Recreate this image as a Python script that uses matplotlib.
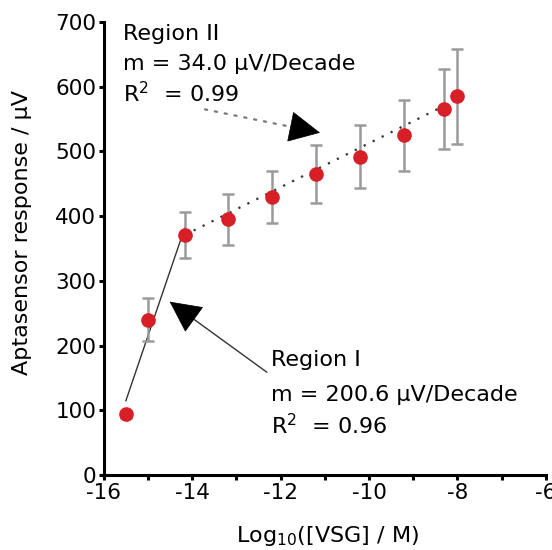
import matplotlib
matplotlib.use("Agg")
import matplotlib.pyplot as plt
import numpy as np

# data
log_conc = [-15.5, -15.0, -14.17, -13.2, -12.2, -11.2, -10.2, -9.2, -8.3, -8.0]
response = [94, 240, 371, 395, 430, 465, 492, 525, 566, 585]
err = [5, 33, 35, 39, 40, 45, 49, 55, 62, 73]

slope_I, r2_I = 200.6, 0.96
slope_II, r2_II = 34.0, 0.99
fit_I_x = [-15.5, -14.17]
fit_I_b = 115
fit_II_x = [-14.17, -8.0]
fit_II_b = 371

xticks = [-16, -14, -12, -10, -8, -6]
yticks = [0, 100, 200, 300, 400, 500, 600, 700]

plt.rcParams['font.family'] = ['DejaVu Sans']

fig = plt.figure(figsize=(5.52, 5.50), dpi=100)
ax = fig.add_axes([0.188, 0.136, 0.801, 0.824])

# fit lines
xI = np.array(fit_I_x)
ax.plot(xI, fit_I_b + slope_I * (xI - fit_I_x[0]), color='#333333', lw=1.0, zorder=2)
xII = np.array(fit_II_x)
ax.plot(xII, fit_II_b + slope_II * (xII - fit_II_x[0]), color='#333333', lw=1.6,
        ls=(0, (1, 3.5)), zorder=2)

ax.errorbar(log_conc, response, yerr=err, fmt='o', color='#d81e27', ms=9.5,
            ecolor='#9a9a9a', elinewidth=1.8, capsize=4.5, capthick=1.8, zorder=3)

ax.set_xlim(-16, -6)
ax.set_ylim(0, 700)
ax.set_xticks(xticks)
ax.set_xticks(np.arange(-16, -5, 1), minor=True)
ax.set_yticks(yticks)
ax.set_xticklabels([str(t) for t in xticks])
for s in ['top', 'right']:
    ax.spines[s].set_visible(False)
for s in ['left', 'bottom']:
    ax.spines[s].set_linewidth(2.2)
ax.tick_params(which='both', direction='out', length=3.5, width=2.2, labelsize=15.5, pad=2)

ax.set_xlabel('Log$_{10}$([VSG] / M)', fontsize=16)
ax.xaxis.set_label_coords(0.505, -0.108)
ax.set_ylabel('Aptasensor response / μV', fontsize=16)
ax.yaxis.set_label_coords(-0.162, 0.535)

fs = 16
ax.text(-15.57, 681, 'Region II', fontsize=fs, va='center', ha='left')
ax.text(-15.57, 635, 'm = %.1f μV/Decade' % slope_II, fontsize=fs, va='center', ha='left')
ax.text(-15.57, 589, 'R$^2$  = %.2f' % r2_II, fontsize=fs, va='center', ha='left')

ax.text(-12.22, 178, 'Region I', fontsize=fs, va='center', ha='left')
ax.text(-12.22, 124, 'm = %.1f μV/Decade' % slope_I, fontsize=fs, va='center', ha='left')
ax.text(-12.22, 76, 'R$^2$  = %.2f' % r2_I, fontsize=fs, va='center', ha='left')

def arrow(tail, tip, ls, color, lw):
    ax.annotate('', xy=tip, xytext=tail,
                arrowprops=dict(arrowstyle='-', ls=ls, color=color, lw=lw,
                                shrinkA=0, shrinkB=8))
    t = np.array(tail); p = np.array(tip)
    back = p - (p - t) * 0.05
    ax.annotate('', xy=tip, xytext=tuple(back),
                arrowprops=dict(arrowstyle='-|>,head_length=1.5,head_width=0.75',
                                mutation_scale=14, color='black', lw=0.5,
                                shrinkA=0, shrinkB=0))

arrow((-12.31, 159), (-14.51, 268), '-', '#333333', 1.0)
arrow((-13.71, 565), (-11.11, 529), (0, (1, 3.5)), '#777777', 1.6)

fig.savefig('out.png', dpi=100)
